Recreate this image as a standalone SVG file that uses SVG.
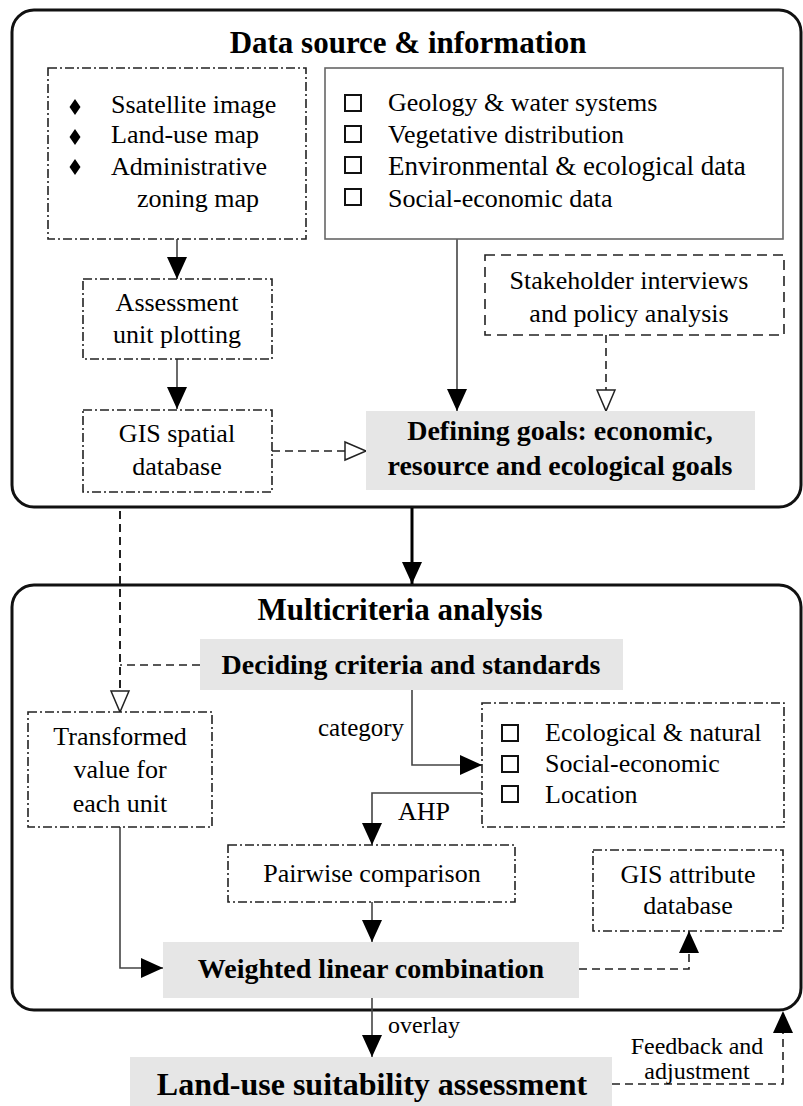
<svg xmlns="http://www.w3.org/2000/svg" width="803" height="1106" viewBox="0 0 803 1106">
<defs>
<style>
text{font-family:"Liberation Serif","Times New Roman",serif;fill:#000;}
.t{font-size:26px;}
.c{text-anchor:middle;}
.b{font-weight:bold;font-size:28px;}
.h{font-weight:bold;font-size:31px;text-anchor:middle;}
.outer{fill:none;stroke:#111;stroke-width:3;}
.dd{fill:#fff;stroke:#222;stroke-width:1.6;stroke-dasharray:9 3 2 3;}
.ds{fill:#fff;stroke:#222;stroke-width:1.6;stroke-dasharray:10 6;}
.gray{fill:#e6e6e6;stroke:none;}
.solid{fill:#fff;stroke:#666;stroke-width:1.6;}
.cb{fill:#fff;stroke:#111;stroke-width:2;}
.ln{fill:none;stroke:#444;stroke-width:1.6;}
.dl{fill:none;stroke:#222;stroke-width:1.6;stroke-dasharray:8 5;}
</style>
<marker id="af" markerUnits="userSpaceOnUse" markerWidth="22" markerHeight="22" viewBox="0 0 22 20" refX="22" refY="10" orient="auto">
<path d="M0,0 L22,10 L0,20 z" fill="#000"/>
</marker>
<marker id="ao" markerUnits="userSpaceOnUse" markerWidth="24" markerHeight="22" viewBox="-1 -1 24 20" refX="21" refY="9" orient="auto">
<path d="M0,0 L21,9 L0,18 z" fill="#fff" stroke="#222" stroke-width="1.5"/>
</marker>
</defs>

<g id="section-data">
<rect class="outer" x="12" y="10" width="789" height="497" rx="22"/>
<text class="h" x="408" y="53">Data source &amp; information</text>
</g>

<g id="section-mca">
<rect class="outer" x="12" y="585" width="789" height="425" rx="22"/>
<text class="h" x="400" y="620">Multicriteria analysis</text>
</g>

<g id="connectors">
<line class="ln" x1="177" y1="239" x2="177" y2="279" marker-end="url(#af)"/>
<line class="ln" x1="177" y1="359" x2="177" y2="409" marker-end="url(#af)"/>
<line class="ln" x1="457" y1="239" x2="457" y2="411" marker-end="url(#af)"/>
<line class="dl" x1="606" y1="335" x2="606" y2="411" marker-end="url(#ao)"/>
<line class="dl" x1="272" y1="451" x2="366" y2="451" marker-end="url(#ao)"/>
<line x1="412" y1="508" x2="412" y2="584" stroke="#000" stroke-width="3" marker-end="url(#af)"/>
<line class="dl" x1="120" y1="511" x2="120" y2="712" marker-end="url(#ao)" style="stroke-width:2"/>
<line class="dl" x1="200" y1="665" x2="120" y2="665"/>
<polyline class="ln" points="412,690 412,765 482,765" marker-end="url(#af)"/>
<polyline class="ln" points="482,793 372,793 372,845" marker-end="url(#af)"/>
<polyline class="ln" points="120,827 120,968 163,968" marker-end="url(#af)"/>
<line class="ln" x1="372" y1="902" x2="372" y2="942" marker-end="url(#af)"/>
<polyline class="dl" points="579,969 689,969 689,931" marker-end="url(#af)"/>
<line class="ln" x1="372" y1="998" x2="372" y2="1057" marker-end="url(#af)"/>
<polyline class="dl" points="612,1084 783,1084 783,1011" marker-end="url(#af)"/>
<text class="t" x="318" y="736" style="font-size:25px">category</text>
<text class="t" x="398" y="820">AHP</text>
<text class="t" x="388" y="1033" style="font-size:24px">overlay</text>
<text class="c" x="697" y="1054" style="font-size:24px">Feedback and</text>
<text class="c" x="697" y="1079" style="font-size:24px">adjustment</text>
</g>

<g id="node-sources">
<rect class="dd" x="48" y="68" width="258" height="171"/>
<polygon points="75,99 80.5,107 75,115 69.5,107" fill="#000"/>
<polygon points="75,129 80.5,137 75,145 69.5,137" fill="#000"/>
<polygon points="75,159 80.5,167 75,175 69.5,167" fill="#000"/>
<text class="t" x="111" y="113">Ssatellite image</text>
<text class="t" x="111" y="143">Land-use map</text>
<text class="t" x="111" y="175">Administrative</text>
<text class="t" x="137" y="207">zoning map</text>
</g>

<g id="node-data">
<rect class="solid" x="325" y="68" width="458" height="171"/>
<rect class="cb" x="345" y="95" width="16" height="16"/>
<rect class="cb" x="345" y="126" width="16" height="16"/>
<rect class="cb" x="345" y="157" width="16" height="16"/>
<rect class="cb" x="345" y="189" width="16" height="16"/>
<text class="t" x="388" y="111">Geology &amp; water systems</text>
<text class="t" x="388" y="143">Vegetative distribution</text>
<text class="t" x="388" y="175" style="font-size:27px">Environmental &amp; ecological data</text>
<text class="t" x="388" y="207">Social-economic data</text>
</g>

<g id="node-assessment-unit">
<rect class="dd" x="83" y="279" width="189" height="80"/>
<text class="t c" x="177" y="311">Assessment</text>
<text class="t c" x="177" y="343">unit plotting</text>
</g>

<g id="node-gis-spatial">
<rect class="dd" x="83" y="410" width="189" height="82"/>
<text class="t c" x="177" y="442">GIS spatial</text>
<text class="t c" x="177" y="475">database</text>
</g>

<g id="node-stakeholder">
<rect class="ds" x="485" y="255" width="299" height="80"/>
<text class="t c" x="629" y="289">Stakeholder interviews</text>
<text class="t c" x="629" y="322">and policy analysis</text>
</g>

<g id="node-goals">
<rect class="gray" x="366" y="411" width="389" height="79"/>
<text class="b c" x="560" y="440">Defining goals: economic,</text>
<text class="b c" x="560" y="475">resource and ecological goals</text>
</g>

<g id="node-deciding">
<rect class="gray" x="200" y="639" width="423" height="51"/>
<text class="b c" x="411" y="674">Deciding criteria and standards</text>
</g>

<g id="node-transformed">
<rect class="dd" x="28" y="712" width="184" height="115"/>
<text class="t c" x="120" y="745">Transformed</text>
<text class="t c" x="120" y="778">value for</text>
<text class="t c" x="120" y="812">each unit</text>
</g>

<g id="node-criteria">
<rect class="dd" x="482" y="703" width="302" height="124"/>
<rect class="cb" x="502" y="725" width="16" height="16"/>
<rect class="cb" x="502" y="756" width="16" height="16"/>
<rect class="cb" x="502" y="786" width="16" height="16"/>
<text class="t" x="545" y="741">Ecological &amp; natural</text>
<text class="t" x="545" y="772">Social-economic</text>
<text class="t" x="545" y="803">Location</text>
</g>

<g id="node-pairwise">
<rect class="dd" x="228" y="845" width="287" height="57"/>
<text class="t c" x="372" y="882">Pairwise comparison</text>
</g>

<g id="node-gis-attribute">
<rect class="dd" x="593" y="850" width="190" height="81"/>
<text class="t c" x="688" y="883">GIS attribute</text>
<text class="t c" x="688" y="914">database</text>
</g>

<g id="node-weighted">
<rect class="gray" x="163" y="942" width="416" height="56"/>
<text class="b c" x="371" y="978">Weighted linear combination</text>
</g>

<g id="node-landuse">
<rect class="gray" x="130" y="1057" width="482" height="55"/>
<text class="b c" x="372" y="1095" style="font-size:32px">Land-use suitability assessment</text>
</g>
</svg>
